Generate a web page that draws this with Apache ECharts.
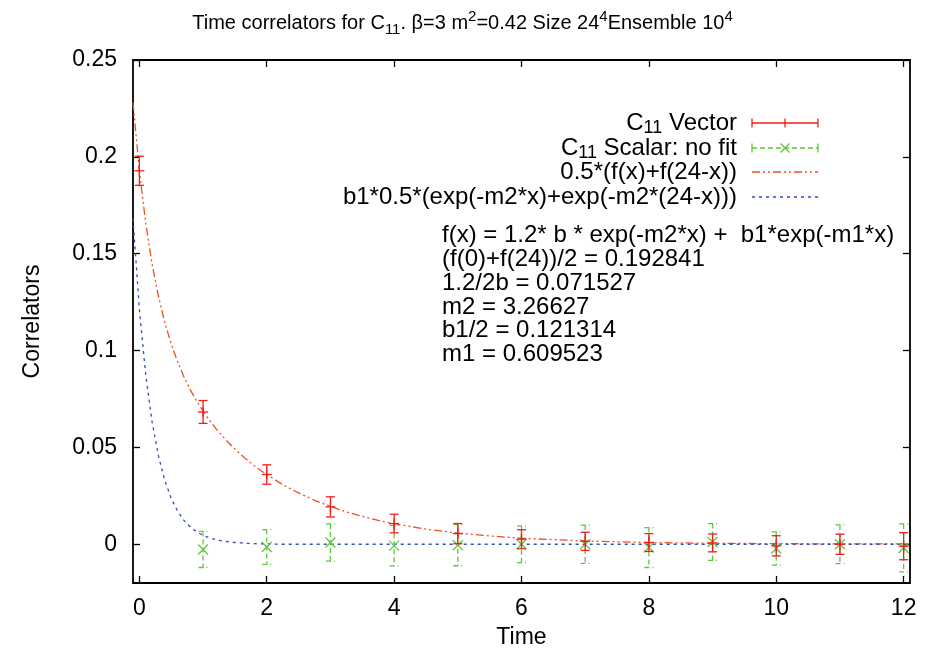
<!DOCTYPE html>
<html lang="en" style="height: 100%">
<head>
<meta charset="utf-8">
<title>Time correlators for C11</title>
</head>
<body style="height: 100%; margin: 0; background: #fff">
<div id="container" style="width: 925px; height: 659px"></div>
<script type="text/javascript" src="https://cdn.jsdelivr.net/npm/echarts/dist/echarts.min.js"></script>
<script type="text/javascript">
var dom = document.getElementById('container');
var myChart = echarts.init(dom, null, { renderer: 'canvas' });
var option;

var FONT = '"Liberation Sans", Arial, Helvetica, sans-serif';

// Measured correlators (time slice, mean, error)
var vectorTimes = [0, 1, 2, 3, 4, 5, 6, 7, 8, 9, 10, 11, 12];
var vectorMean = [0.1928, 0.0683, 0.0360, 0.0193, 0.0107, 0.0055, 0.0026, 0.0015, 0.0009, 0.0007, -0.0008, 0.0000, -0.0010];
var vectorErr = [0.0075, 0.0059, 0.0050, 0.0052, 0.0048, 0.0052, 0.0049, 0.0047, 0.0046, 0.0046, 0.0052, 0.0052, 0.0070];

var scalarTimes = [1, 2, 3, 4, 5, 6, 7, 8, 9, 10, 11, 12];
var scalarMean = [-0.0027, -0.0014, 0.0009, -0.0007, -0.0005, 0.0000, 0.0000, -0.0017, 0.0012, -0.0022, 0.0000, -0.0019];
var scalarErr = [0.0093, 0.0090, 0.0096, 0.0105, 0.0106, 0.0095, 0.0099, 0.0103, 0.0095, 0.0086, 0.0100, 0.0124];

// Fit curves
var curveX = [-0.1, 0, 0.1, 0.2, 0.3, 0.4, 0.5, 0.6, 0.7, 0.8, 0.9, 1.0, 1.1, 1.2, 1.3, 1.4, 1.5, 1.6, 1.7, 1.8, 1.9, 2.0,
    2.25, 2.5, 2.75, 3, 3.25, 3.5, 3.75, 4, 4.5, 5, 5.5, 6, 7, 8, 9, 10, 11, 12, 12.1];
var fitSym = [0.2281, 0.1928, 0.1657, 0.1446, 0.1279, 0.1144, 0.1034, 0.0942, 0.0864, 0.0797, 0.0739, 0.0687, 0.0640, 0.0598, 0.0560, 0.0524, 0.0492, 0.0461, 0.0433, 0.0407, 0.0382, 0.0360,
    0.0308, 0.0265, 0.0227, 0.0195, 0.0167, 0.0144, 0.0123, 0.0106, 0.0078, 0.0058, 0.0043, 0.0031, 0.0017, 0.0009, 0.0005, 0.0003, 0.0002, 0.0002, 0.0002];
var fitFast = [0.1682, 0.1213, 0.0875, 0.0631, 0.0455, 0.0328, 0.0237, 0.0171, 0.0123, 0.0089, 0.0064, 0.0046, 0.0033, 0.0024, 0.0017, 0.0013, 0.0009, 0.0007, 0.0005, 0.0003, 0.0002, 0.0002,
    0, 0, 0, 0, 0, 0, 0, 0, 0, 0, 0, 0, 0, 0, 0, 0, 0, 0, 0];

var xTicks = [0, 2, 4, 6, 8, 10, 12];
var yTicks = [0, 0.05, 0.1, 0.15, 0.2, 0.25];

var fitLines = [
    'f(x) = 1.2* b * exp(-m2*x) +  b1*exp(-m1*x)',
    '(f(0)+f(24))/2 = 0.192841',
    '1.2/2b = 0.071527',
    'm2 = 3.26627',
    'b1/2 = 0.121314',
    'm1 = 0.609523'
];

var RED = '#f01e1e';
var GREEN = '#62c440';
var ORANGE = '#f0501e';
var BLUE = '#2f4fbf';

function zip3(a, b, c) {
    return a.map(function (v, i) { return [v, b[i], c[i]]; });
}
function zip2(a, b) {
    return a.map(function (v, i) { return [v, b[i]]; });
}

function errorBars(color, dash, marker) {
    return function (params, api) {
        var x = api.value(0), y = api.value(1), e = api.value(2);
        var hi = api.coord([x, y + e]);
        var lo = api.coord([x, y - e]);
        var c = api.coord([x, y]);
        var w = 4.5, m = 5;
        var st = { stroke: color, lineWidth: 1.3, lineDash: dash };
        var kids = [
            { type: 'line', shape: { x1: hi[0], y1: hi[1], x2: lo[0], y2: lo[1] }, style: st },
            { type: 'line', shape: { x1: hi[0] - w, y1: hi[1], x2: hi[0] + w, y2: hi[1] }, style: st },
            { type: 'line', shape: { x1: lo[0] - w, y1: lo[1], x2: lo[0] + w, y2: lo[1] }, style: st }
        ];
        var ms = { stroke: color, lineWidth: 1.3 };
        if (marker === 'plus') {
            kids.push({ type: 'line', shape: { x1: c[0] - m, y1: c[1], x2: c[0] + m, y2: c[1] }, style: ms });
            kids.push({ type: 'line', shape: { x1: c[0], y1: c[1] - m, x2: c[0], y2: c[1] + m }, style: ms });
        } else {
            kids.push({ type: 'line', shape: { x1: c[0] - m, y1: c[1] - m, x2: c[0] + m, y2: c[1] + m }, style: ms });
            kids.push({ type: 'line', shape: { x1: c[0] - m, y1: c[1] + m, x2: c[0] + m, y2: c[1] - m }, style: ms });
        }
        return { type: 'group', children: kids };
    };
}

var xBase = {
    type: 'value', min: -0.1, max: 12.1, gridIndex: 0,
    axisLine: { show: false, onZero: false },
    splitLine: { show: false },
    axisTick: { inside: true, length: 7, customValues: xTicks, lineStyle: { color: '#000', width: 1.3 } }
};
var yBase = {
    type: 'value', min: -0.02, max: 0.25, gridIndex: 0,
    axisLine: { show: false, onZero: false },
    splitLine: { show: false },
    axisTick: { inside: true, length: 7, customValues: yTicks, lineStyle: { color: '#000', width: 1.3 } }
};

// gnuplot-style key on the right side of the plot
var keyTextX = 737, keyX1 = 752, keyX2 = 818, keyRows = [123, 148, 172, 197];
var keyTexts = ['C{sub|11} Vector', 'C{sub|11} Scalar: no fit', '0.5*(f(x)+f(24-x))', 'b1*0.5*(exp(-m2*x)+exp(-m2*(24-x)))'];
var richSub = { sub: { fontSize: 18, fontFamily: FONT, verticalAlign: 'bottom', lineHeight: 18 } };
var graphics = [];
keyTexts.forEach(function (t, i) {
    graphics.push({
        type: 'text', x: keyTextX, y: keyRows[i],
        style: { text: t, fill: '#000', font: '24px ' + FONT, align: 'right', verticalAlign: 'middle', lineHeight: 28, rich: richSub }
    });
});
var keyStyles = [
    { stroke: RED, lineWidth: 1.3 },
    { stroke: GREEN, lineWidth: 1.3, lineDash: [5, 3] },
    { stroke: ORANGE, lineWidth: 1.3, lineDash: [8, 3, 2, 3, 2, 3] },
    { stroke: BLUE, lineWidth: 1.3, lineDash: [3, 4] }
];
keyStyles.forEach(function (s, i) {
    graphics.push({ type: 'line', shape: { x1: keyX1, y1: keyRows[i], x2: keyX2, y2: keyRows[i] }, style: s });
});
[0, 1].forEach(function (i) {
    var y = keyRows[i], col = i === 0 ? RED : GREEN;
    [keyX1, keyX2].forEach(function (x) {
        graphics.push({ type: 'line', shape: { x1: x, y1: y - 4.5, x2: x, y2: y + 4.5 }, style: { stroke: col, lineWidth: 1.3 } });
    });
});
var km = (keyX1 + keyX2) / 2;
graphics.push({ type: 'line', shape: { x1: km, y1: keyRows[0] - 4.5, x2: km, y2: keyRows[0] + 4.5 }, style: { stroke: RED, lineWidth: 1.3 } });
graphics.push({ type: 'line', shape: { x1: km - 4.5, y1: keyRows[1] - 4.5, x2: km + 4.5, y2: keyRows[1] + 4.5 }, style: { stroke: GREEN, lineWidth: 1.3 } });
graphics.push({ type: 'line', shape: { x1: km - 4.5, y1: keyRows[1] + 4.5, x2: km + 4.5, y2: keyRows[1] - 4.5 }, style: { stroke: GREEN, lineWidth: 1.3 } });

// fit parameter block
graphics.push({
    type: 'text', x: 442, y: 224,
    style: { text: fitLines.join('\n'), fill: '#000', font: '24px ' + FONT, align: 'left', verticalAlign: 'top', lineHeight: 23.7 }
});

option = {
    backgroundColor: '#fff',
    animation: false,
    title: {
        text: 'Time correlators for C{sub|11}. \u03b2=3 m{sup|2}=0.42 Size 24{sup|4}Ensemble 10{sup|4}',
        left: 'center',
        top: 4,
        textStyle: {
            fontFamily: FONT, fontSize: 20, fontWeight: 'normal', color: '#000', lineHeight: 28,
            rich: {
                sub: { fontFamily: FONT, fontSize: 15, verticalAlign: 'bottom', lineHeight: 15 },
                sup: { fontFamily: FONT, fontSize: 15, verticalAlign: 'top', lineHeight: 15 }
            }
        }
    },
    grid: {
        left: 133, right: 15, top: 60, bottom: 76,
        show: true, borderColor: '#000', borderWidth: 1.8,
        containLabel: false, outerBoundsMode: 'none'
    },
    xAxis: [
        Object.assign({}, xBase, {
            position: 'bottom',
            name: 'Time', nameLocation: 'middle', nameGap: 43,
            nameTextStyle: { fontFamily: FONT, fontSize: 23, color: '#000' },
            axisLabel: { customValues: xTicks, margin: 14, fontFamily: FONT, fontSize: 23, color: '#000' }
        }),
        Object.assign({}, xBase, { position: 'top', axisLabel: { show: false } })
    ],
    yAxis: [
        Object.assign({}, yBase, {
            position: 'left',
            name: 'Correlators', nameLocation: 'middle', nameGap: 89,
            nameTextStyle: { fontFamily: FONT, fontSize: 23, color: '#000' },
            axisLabel: { customValues: yTicks, margin: 16, fontFamily: FONT, fontSize: 23, color: '#000' }
        }),
        Object.assign({}, yBase, { position: 'right', axisLabel: { show: false } })
    ],
    series: [
        {
            name: '0.5*(f(x)+f(24-x))', type: 'line', xAxisIndex: 0, yAxisIndex: 0,
            data: zip2(curveX, fitSym), showSymbol: false, smooth: false,
            lineStyle: { color: ORANGE, width: 1.3, type: [8, 3, 2, 3, 2, 3] }, z: 2
        },
        {
            name: 'b1*0.5*(exp(-m2*x)+exp(-m2*(24-x)))', type: 'line', xAxisIndex: 0, yAxisIndex: 0,
            data: zip2(curveX, fitFast), showSymbol: false, smooth: false,
            lineStyle: { color: BLUE, width: 1.3, type: [3, 4] }, z: 2
        },
        {
            name: 'C11 Vector', type: 'custom', xAxisIndex: 0, yAxisIndex: 0,
            data: zip3(vectorTimes, vectorMean, vectorErr),
            encode: { x: 0, y: 1 },
            renderItem: errorBars(RED, null, 'plus'), z: 4
        },
        {
            name: 'C11 Scalar: no fit', type: 'custom', xAxisIndex: 0, yAxisIndex: 0,
            data: zip3(scalarTimes, scalarMean, scalarErr),
            encode: { x: 0, y: 1 },
            renderItem: errorBars(GREEN, [5, 3], 'cross'), z: 3
        }
    ],
    graphic: graphics
};

if (option && typeof option === 'object') {
    myChart.setOption(option);
}
window.addEventListener('resize', myChart.resize);
</script>
</body>
</html>
